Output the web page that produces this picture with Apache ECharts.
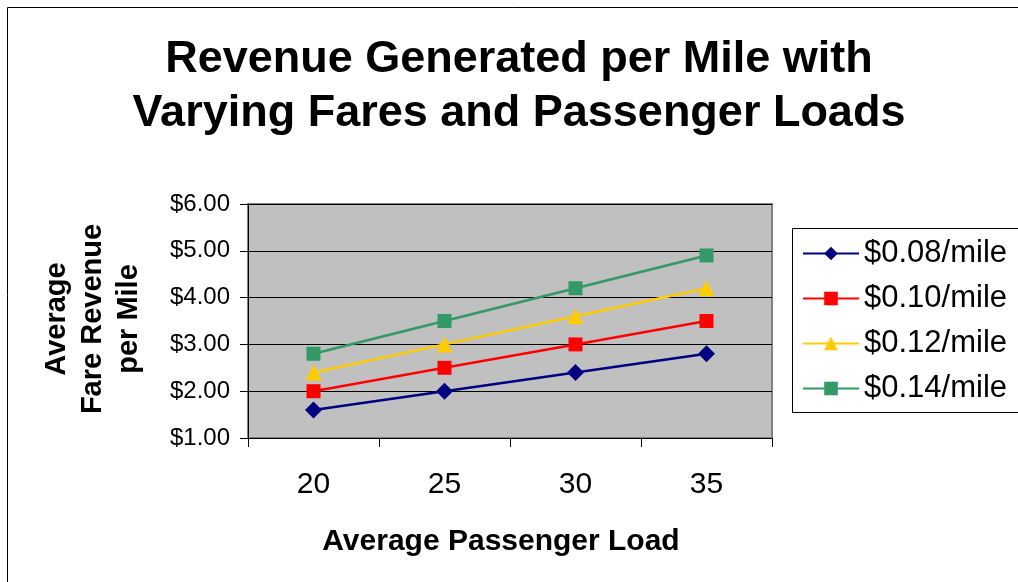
<!DOCTYPE html>
<html>
<head>
<meta charset="utf-8">
<script src="https://cdn.jsdelivr.net/npm/echarts@6/dist/echarts.min.js"></script>
<style>
  html, body { margin: 0; padding: 0; background: #fff; }
  #chart { width: 1018px; height: 582px; }
</style>
</head>
<body>
<div id="chart"></div>
<script>
const loads = ['20', '25', '30', '35']
const fareNames = ['$0.08/mile', '$0.10/mile', '$0.12/mile', '$0.14/mile']
const fare08 = [1.6, 2.0, 2.4, 2.8]
const fare10 = [2.0, 2.5, 3.0, 3.5]
const fare12 = [2.4, 3.0, 3.6, 4.2]
const fare14 = [2.8, 3.5, 4.2, 4.9]

const colors = ['#000080', '#ff0000', '#ffcc00', '#339966']
const symbols = ['diamond', 'rect', 'triangle', 'rect']
const symbolSizes = [17, 14, 16, 14]
const values = [fare08, fare10, fare12, fare14]

const FONT = '"Liberation Sans", Arial, sans-serif'
const chart = echarts.init(document.getElementById('chart'))

chart.setOption({
  animation: false,
  textStyle: { fontFamily: FONT },
  title: {
    text: 'Revenue Generated per Mile with\nVarying Fares and Passenger Loads',
    left: 514,
    top: 28,
    textAlign: 'center',
    textStyle: { fontSize: 45, fontWeight: 'bold', color: '#000', lineHeight: 54, fontFamily: FONT }
  },
  grid: {
    left: 248, right: 246, top: 204, bottom: 144,
    show: true, backgroundColor: '#c0c0c0', borderColor: '#808080', borderWidth: 2
  },
  legend: {
    orient: 'vertical',
    left: 797,
    top: 233,
    itemWidth: 56,
    itemHeight: 17,
    itemGap: 14,
    data: fareNames,
    textStyle: { fontSize: 31, color: '#000', fontFamily: FONT }
  },
  xAxis: {
    type: 'category',
    data: loads,
    boundaryGap: true,
    axisLine: { lineStyle: { color: '#000', width: 1 } },
    axisTick: { show: true, length: 9, lineStyle: { color: '#000' } },
    axisLabel: { fontSize: 30, color: '#000', margin: 32, fontFamily: FONT }
  },
  yAxis: {
    type: 'value',
    min: 1, max: 6, interval: 1,
    axisLine: { show: true, lineStyle: { color: '#000', width: 1 } },
    axisTick: { show: true, length: 8, lineStyle: { color: '#000' } },
    axisLabel: {
      fontSize: 24, color: '#000', margin: 18, fontFamily: FONT,
      formatter: v => '$' + v.toFixed(2)
    },
    splitLine: { lineStyle: { color: '#000', width: 1 } }
  },
  graphic: [
    {
      type: 'rect',
      shape: { x: 7.5, y: 7.5, width: 1030, height: 600 },
      style: { fill: 'none', stroke: '#000', lineWidth: 1 },
      z: -10
    },
    {
      type: 'rect',
      shape: { x: 792.5, y: 228.5, width: 240, height: 184 },
      style: { fill: '#fff', stroke: '#000', lineWidth: 1 },
      z: -5
    },
    {
      type: 'text',
      x: 93, y: 319,
      rotation: Math.PI / 2,
      style: {
        text: 'Average\nFare Revenue\nper Mile',
        font: 'bold 29px ' + FONT,
        fill: '#000',
        align: 'center',
        verticalAlign: 'middle',
        lineHeight: 36
      }
    },
    {
      type: 'text',
      x: 501, y: 542,
      style: {
        text: 'Average Passenger Load',
        font: 'bold 30px ' + FONT,
        fill: '#000',
        align: 'center',
        verticalAlign: 'middle'
      }
    }
  ],
  series: values.map((d, i) => ({
    name: fareNames[i],
    type: 'line',
    data: d,
    symbol: symbols[i],
    symbolSize: symbolSizes[i],
    lineStyle: { color: colors[i], width: 2.5 },
    itemStyle: { color: colors[i] }
  }))
})
</script>
</body>
</html>
